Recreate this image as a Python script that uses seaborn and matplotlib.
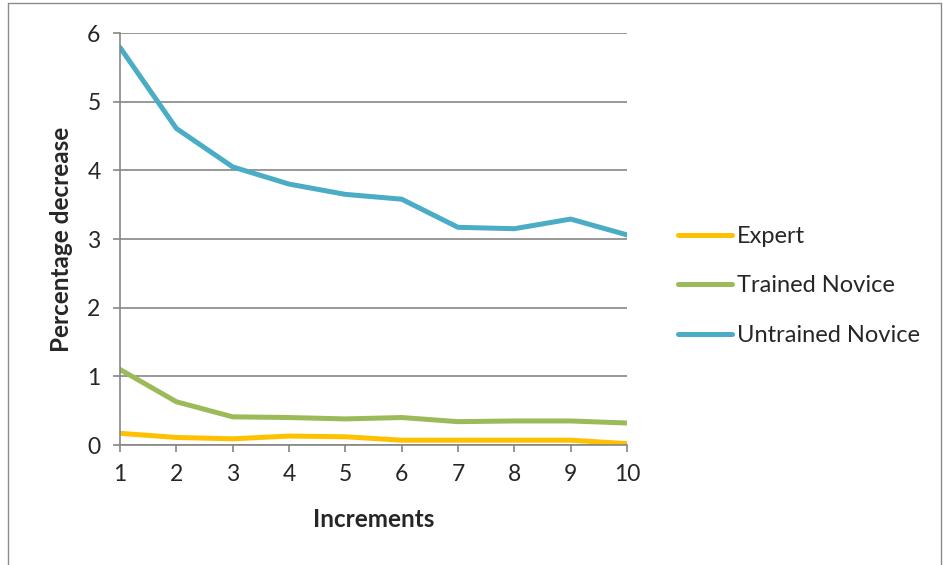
import pandas as pd
import matplotlib.pyplot as plt
import seaborn as sns
from matplotlib.lines import Line2D

increments = list(range(1, 11))
expert = [0.17, 0.11, 0.09, 0.13, 0.12, 0.07, 0.07, 0.07, 0.07, 0.02]
trained_novice = [1.10, 0.63, 0.41, 0.40, 0.38, 0.40, 0.34, 0.35, 0.35, 0.32]
untrained_novice = [5.79, 4.61, 4.05, 3.80, 3.65, 3.58, 3.17, 3.15, 3.29, 3.06]
series_names = ['Expert', 'Trained Novice', 'Untrained Novice']
colors = ['#FFC000', '#9BBB59', '#4BACC6']

df = pd.DataFrame({
    'Increments': increments * 3,
    'Value': expert + trained_novice + untrained_novice,
    'Group': [n for n in series_names for _ in increments],
})

sns.set_theme(style="white")
plt.rcParams['font.family'] = ['Lato', 'DejaVu Sans']

fig = plt.figure(figsize=(9.43, 5.65), dpi=100)
ax = fig.add_axes([120 / 943, 1 - 445 / 565, 507 / 943, 412 / 565])

sns.lineplot(data=df, x='Increments', y='Value', hue='Group', palette=colors,
             linewidth=3.6, ax=ax, legend=False)

grid_col = '#868686'
ax.set_xlim(1, 10)
ax.set_ylim(0, 6)
ax.set_xticks(increments)
ax.set_yticks(range(0, 7))
ax.yaxis.grid(True, color=grid_col, linewidth=1.2)
ax.set_axisbelow(True)
for s in ['top', 'right']:
    ax.spines[s].set_visible(False)
for s in ['left', 'bottom']:
    ax.spines[s].set_color(grid_col)
    ax.spines[s].set_linewidth(1.2)
ax.tick_params(axis='both', direction='out', length=5, width=1.2, color=grid_col,
               labelsize=16.5, bottom=True, left=True)
ax.tick_params(axis='y', pad=9)
ax.tick_params(axis='x', pad=9)
ax.set_xlabel('Increments', fontsize=17.5, fontweight='bold', labelpad=16)
ax.set_ylabel('Percentage decrease', fontsize=17.5, fontweight='bold', labelpad=10)

handles = [Line2D([0], [0], color=c, linewidth=3.6) for c in colors]
fig.legend(handles, series_names, loc='center left',
           bbox_to_anchor=(678 / 943, 1 - 286 / 565), frameon=False,
           fontsize=17, handlelength=2.3, handletextpad=0.2, labelspacing=1.2,
           borderaxespad=0, borderpad=0)

border = '#8c8c8c'
fig.add_artist(Line2D([8 / 943, 8 / 943], [0, 1 - 3 / 565], color=border, linewidth=1))
fig.add_artist(Line2D([8 / 943, 941 / 943], [1 - 3 / 565, 1 - 3 / 565], color=border, linewidth=1))
fig.add_artist(Line2D([941 / 943, 941 / 943], [0, 1 - 3 / 565], color=border, linewidth=1))

fig.savefig('out.png', dpi=100)
